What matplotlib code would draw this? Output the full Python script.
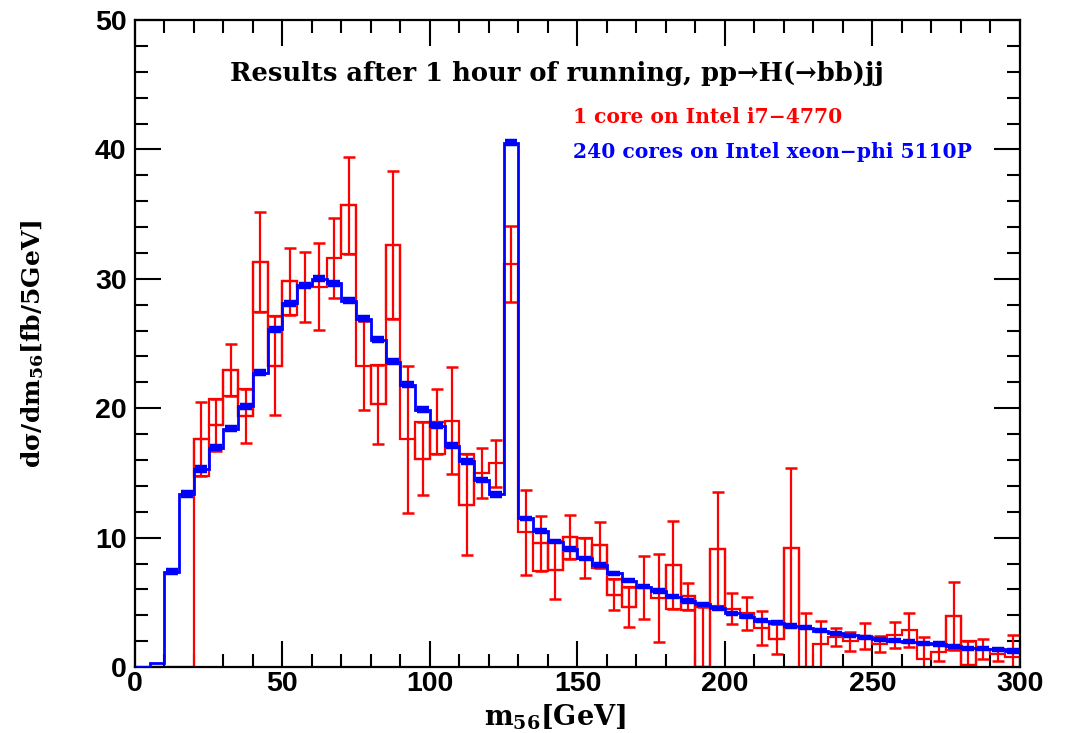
import numpy as np
import matplotlib
matplotlib.use("Agg")
import matplotlib.pyplot as plt
from matplotlib.ticker import MultipleLocator

# ----- data (5 GeV bins, 0..300) -----
bin_edges = np.arange(0, 305, 5)

# 240 cores on xeon-phi (blue)
blue_val = [0.0, 0.33, 7.37, 13.37, 15.3, 16.95, 18.4, 20.15, 22.75, 26.1,
            28.1, 29.5, 30.0, 29.65, 28.3, 26.9, 25.3, 23.6, 21.8, 19.9,
            18.65, 17.1, 15.9, 14.45, 13.35, 40.5, 11.49, 10.51, 9.69, 9.12,
            8.4, 7.88, 7.24, 6.67, 6.21, 5.87, 5.43, 5.1, 4.84, 4.53,
            4.15, 3.89, 3.58, 3.43, 3.17, 3.04, 2.81, 2.6, 2.47, 2.29,
            2.14, 2.04, 1.96, 1.83, 1.78, 1.62, 1.44, 1.42, 1.37, 1.24]
blue_err = [0.0, 0.0, 0.12, 0.12, 0.12, 0.12, 0.12, 0.12, 0.12, 0.12,
            0.12, 0.12, 0.12, 0.12, 0.12, 0.12, 0.12, 0.12, 0.12, 0.12,
            0.1, 0.1, 0.1, 0.1, 0.1, 0.12, 0.06, 0.06, 0.06, 0.06,
            0.05, 0.05, 0.05, 0.05, 0.05, 0.05, 0.05, 0.05, 0.05, 0.05,
            0.04, 0.04, 0.04, 0.04, 0.04, 0.04, 0.04, 0.04, 0.04, 0.04,
            0.04, 0.04, 0.04, 0.04, 0.04, 0.04, 0.04, 0.04, 0.04, 0.04]

# 1 core on i7 (red)
red_val = [0.0, 0.0, 0.0, 0.0, 17.6, 18.7, 22.95, 19.4, 31.3, 23.3,
           29.8, 29.4, 29.4, 31.6, 35.7, 23.3, 20.3, 32.6, 17.6, 16.1,
           18.95, 19.05, 12.55, 15.0, 15.75, 31.15, 10.4, 9.55, 7.5, 10.05,
           8.45, 9.43, 5.57, 4.63, 6.13, 5.3, 7.85, 5.47, 0.0, 9.09,
           4.5, 4.15, 3.0, 2.15, 9.22, 0.0, 1.75, 2.32, 2.0, 2.4,
           1.78, 2.5, 2.86, 0.6, 1.16, 3.94, 0.15, 1.4, 1.0, 0.8]
red_err = [0.0, 0.0, 0.0, 0.0, 2.85, 2.0, 2.0, 2.05, 3.9, 3.85,
           2.57, 2.7, 3.35, 3.1, 3.75, 3.45, 3.05, 5.7, 5.7, 2.8,
           2.5, 4.15, 3.9, 1.9, 1.8, 2.97, 3.3, 2.15, 2.25, 1.7,
           1.55, 1.8, 1.2, 1.55, 2.45, 3.4, 3.4, 1.06, 4.66, 4.4,
           1.2, 1.3, 1.3, 1.15, 6.13, 4.2, 1.83, 0.69, 0.73, 0.97,
           0.63, 1.0, 1.34, 1.75, 0.68, 2.65, 1.9, 0.77, 0.5, 1.65]
# which side of the value the error box is drawn on (-1 below, +1 above, 0 none)
red_box = [0, 0, 0, 0, -1, 1, -1, 1, -1, 1,
           -1, 0, 0, 0, -1, 0, 1, -1, 0, 1,
           -1, 0, 1, 0, 0, 0, 0, -1, 1, -1,
           1, -1, 1, 1, 0, 0, -1, -1, 1, -1,
           0, 0, 0, 1, -1, 0, 0, 0, 0, 0,
           0, 0, 0, 0, 0, -1, 1, 0, 0, 0]

title_text = "Results after 1 hour of running, pp\u2192H(\u2192bb)jj"
red_label = "1 core on Intel i7\u22124770"
blue_label = "240 cores on Intel xeon\u2212phi 5110P"

# ----- style -----
plt.rcParams["mathtext.fontset"] = "dejavuserif"
SERIF = "DejaVu Serif"

fig = plt.figure(figsize=(10.66, 7.33), dpi=100)
ax = fig.add_axes([0.1266, 0.090, 0.8302, 0.8827])

edges = bin_edges
centers = 0.5 * (edges[:-1] + edges[1:])
rv = np.array(red_val)
re_ = np.array(red_err)
rb = np.array(red_box)
bv = np.array(blue_val)
be = np.array(blue_err)

# red histogram, error boxes and error bars
ax.stairs(rv, edges, color="red", lw=1.6, zorder=2)
m = rb != 0
ax.bar(centers[m], rb[m] * re_[m], bottom=rv[m], width=5, fill=False,
       edgecolor="red", lw=1.6, zorder=2)
m = re_ > 0
ax.errorbar(centers[m], rv[m], yerr=re_[m], fmt="none", ecolor="red",
            elinewidth=1.6, capsize=4.5, capthick=1.8, zorder=2)

# blue histogram on top
ax.stairs(bv, edges, color="blue", lw=2.0, zorder=3)
m = be > 0
ax.errorbar(centers[m], bv[m], yerr=be[m], fmt="none", ecolor="blue",
            elinewidth=2.0, capsize=4.5, capthick=3.2, zorder=3)

ax.set_xlim(0, 300)
ax.set_ylim(0, 50)
ax.xaxis.set_major_locator(MultipleLocator(50))
ax.xaxis.set_minor_locator(MultipleLocator(10))
ax.yaxis.set_major_locator(MultipleLocator(10))
ax.yaxis.set_minor_locator(MultipleLocator(2))
ax.tick_params(which="both", direction="in", top=True, right=True, width=1.5)
ax.tick_params(which="major", length=19)
ax.tick_params(which="minor", length=9.5)
ax.tick_params(axis="x", pad=3)
ax.tick_params(axis="y", pad=6)
for lab in ax.get_xticklabels() + ax.get_yticklabels():
    lab.set_fontfamily("Liberation Sans")
    lab.set_fontweight("bold")
    lab.set_fontsize(20.5)
for sp in ax.spines.values():
    sp.set_linewidth(1.6)

ax.set_xlabel(r"m$_{\mathbf{56}}$[GeV]", fontsize=19.5, fontfamily=SERIF,
              fontweight="bold")
ax.xaxis.set_label_coords(0.475, -0.055)
ax.set_ylabel("d\u03c3/dm" + r"$_{\mathbf{56}}$" + "[fb/5GeV]", fontsize=18,
              fontfamily=SERIF, fontweight="bold")
ax.yaxis.set_label_coords(-0.10, 0.50)

ax.text(0.477, 0.918, title_text, transform=ax.transAxes, ha="center",
        va="center", fontsize=18.5, fontfamily=SERIF, fontweight="bold")
ax.text(0.495, 0.850, red_label, transform=ax.transAxes, ha="left",
        va="center", fontsize=14.6, color="red", fontfamily=SERIF,
        fontweight="bold")
ax.text(0.495, 0.796, blue_label, transform=ax.transAxes, ha="left",
        va="center", fontsize=14.6, color="blue", fontfamily=SERIF,
        fontweight="bold")

fig.savefig("out.png", dpi=100)
